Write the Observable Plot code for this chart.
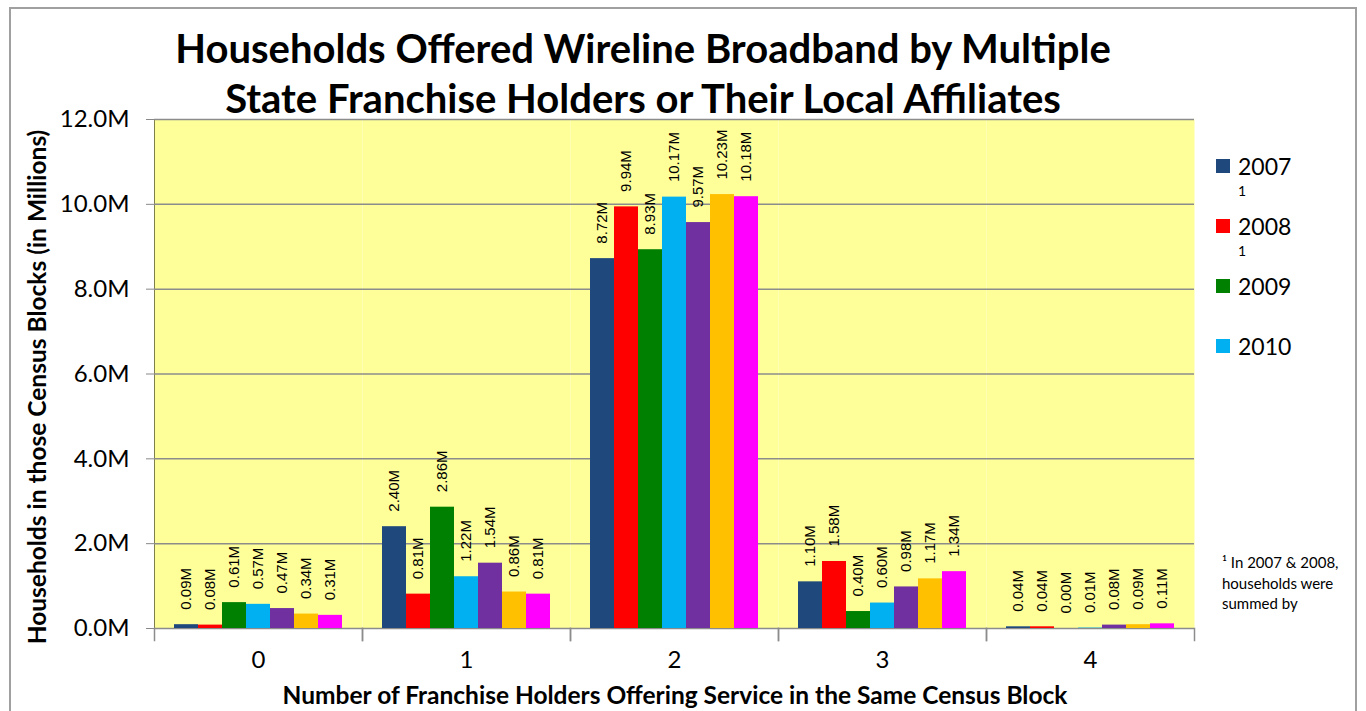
<!DOCTYPE html>
<html><head><meta charset="utf-8">
<script src="https://cdn.jsdelivr.net/npm/d3@7"></script>
<script src="https://cdn.jsdelivr.net/npm/@observablehq/plot@0.6"></script>
<style>
body{margin:0;background:#fff;font-family:Lato,"Open Sans",sans-serif;}
#wrap{position:relative;width:1366px;height:711px;overflow:hidden;background:#fff;}
#border{position:absolute;left:9px;top:7px;width:1348px;height:740px;border:2px solid #a0a0a0;box-sizing:border-box;}
#chart{position:absolute;left:0;top:0;}
#title{position:absolute;left:93px;width:1100px;top:23px;text-align:center;font-weight:bold;font-size:40px;line-height:50px;color:#000;}
#ylab{position:absolute;left:-263px;top:373px;width:600px;text-align:center;font-weight:bold;font-size:24.5px;line-height:28px;transform:rotate(-90deg);}
#xlab{position:absolute;left:225px;top:681px;width:900px;text-align:center;font-weight:bold;font-size:24.5px;line-height:28px;}
.leg{position:absolute;left:1216px;font-size:23px;line-height:26px;}
.sw{position:absolute;left:0;top:6px;width:14px;height:14px;}
.lt{position:absolute;left:22px;top:0;white-space:nowrap;}
.sup{position:absolute;left:1238px;font-size:14px;}
#foot{position:absolute;left:1222px;top:552px;font-size:15px;line-height:20.5px;white-space:nowrap;}
g[aria-label="y-axis tick"] path{stroke:#888;}
</style>
</head><body>
<div id="wrap">
<div id="border"></div>
<div id="chart"></div>
<div id="title">Households Offered Wireline Broadband by Multiple<br>State Franchise Holders or Their Local Affiliates</div>
<div id="ylab">Households in those Census Blocks (in Millions)</div>
<div id="xlab">Number of Franchise Holders Offering Service in the Same Census Block</div>
<div id="legend"></div>
<div id="foot">¹ In 2007 &amp; 2008,<br>households were<br>summed by</div>
</div>
<script>
const groups = ["0", "1", "2", "3", "4"];
const years = ["2007", "2008", "2009", "2010", "2011", "2012", "2013"];
const colors = ["#1F497D", "#FF0000", "#008000", "#00B0F0", "#7030A0", "#FFC000", "#FF00FF"];
const legendYears = ["2007", "2008", "2009", "2010"];
const legendNotes = ["1", "1", "", ""];
const yTicks = [0, 2, 4, 6, 8, 10, 12];

const v2007 = [0.09, 2.40, 8.72, 1.10, 0.04];
const v2008 = [0.08, 0.81, 9.94, 1.58, 0.04];
const v2009 = [0.61, 2.86, 8.93, 0.40, 0.00];
const v2010 = [0.57, 1.22, 10.17, 0.60, 0.01];
const v2011 = [0.47, 1.54, 9.57, 0.98, 0.08];
const v2012 = [0.34, 0.86, 10.23, 1.17, 0.09];
const v2013 = [0.31, 0.81, 10.18, 1.34, 0.11];
const series = [v2007, v2008, v2009, v2010, v2011, v2012, v2013];

const rows = [];
groups.forEach((g, i) => years.forEach((y, j) => rows.push({group: g, year: y, value: series[j][i]})));

const chart = Plot.plot({
  width: 1366, height: 711,
  marginLeft: 154, marginRight: 172, marginTop: 119, marginBottom: 83,
  style: {fontFamily: "Lato, sans-serif", fontSize: "24px", background: "transparent", color: "#000"},
  fx: {domain: groups, padding: 0, label: null, tickSize: 0, tickPadding: 22},
  x: {domain: years, paddingInner: 0, paddingOuter: 0.75, axis: null},
  y: {domain: [0, 12], ticks: yTicks, tickFormat: d => d.toFixed(1) + "M", tickSize: 8, tickPadding: 17, label: null, line: true},
  color: {domain: years, range: colors},
  marks: [
    Plot.frame({fill: "#FFFF99", stroke: null}),
    Plot.ruleY(yTicks, {stroke: "#8c8c8c", strokeWidth: 1.5}),
    Plot.frame({anchor: "left", stroke: "#8c8c8c", strokeWidth: 1.5, insetTop: 509, insetBottom: -12}),
    Plot.frame({anchor: "right", stroke: "#8c8c8c", strokeWidth: 1.5, insetTop: 509, insetBottom: -12}),
    Plot.barY(rows, {fx: "group", x: "year", y: "value", fill: "year", insetLeft: 0, insetRight: 0}),
    Plot.text(rows, {fx: "group", x: "year", y: "value", text: d => d.value.toFixed(2) + "M",
      rotate: -90, textAnchor: "start", lineAnchor: "middle", dy: -15,
      fontSize: 15, fontFamily: "Liberation Sans, Arial, sans-serif", fill: "#000"})
  ]
});
document.getElementById("chart").appendChild(chart);

const leg = document.getElementById("legend");
legendYears.forEach((y, i) => {
  const top = 153 + i * 60;
  const d = document.createElement("div");
  d.className = "leg";
  d.style.top = top + "px";
  d.innerHTML = `<div class="sw" style="background:${colors[i]}"></div><div class="lt">${y}</div>`;
  leg.appendChild(d);
  if (legendNotes[i]) {
    const s = document.createElement("div");
    s.className = "sup";
    s.style.top = (top + 29) + "px";
    s.textContent = legendNotes[i];
    leg.appendChild(s);
  }
});
</script>
</body></html>
